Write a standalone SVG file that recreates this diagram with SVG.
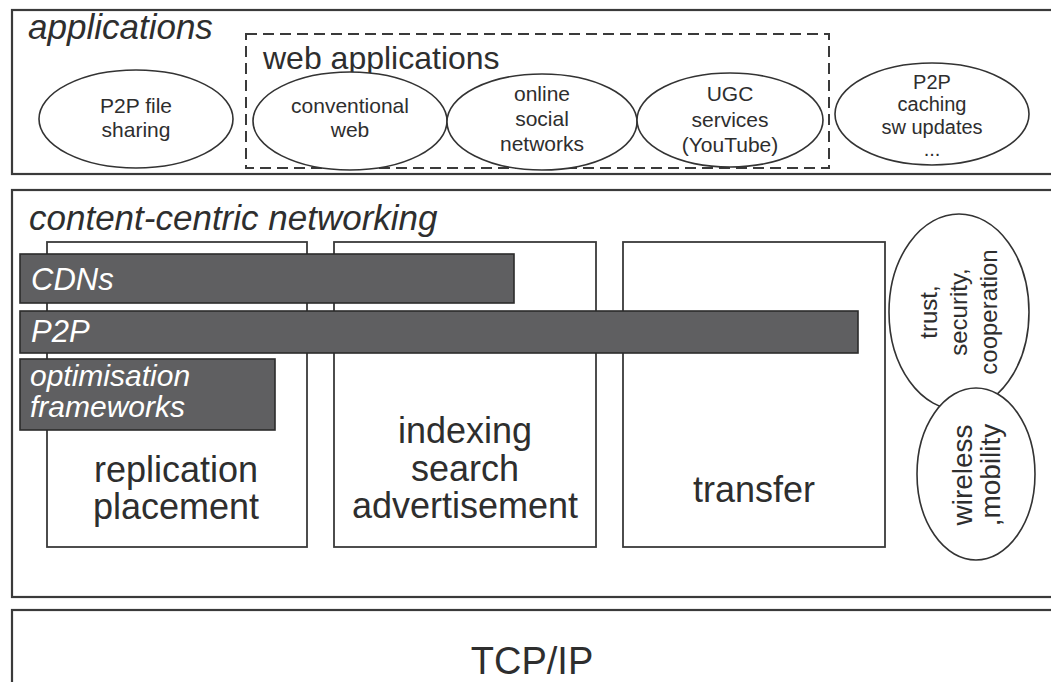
<svg xmlns="http://www.w3.org/2000/svg" width="1051" height="682" viewBox="0 0 1051 682">
  <style>
    .layer { fill: #ffffff; stroke: #3a3a3a; stroke-width: 2.2; }
    .box { fill: #ffffff; stroke: #3a3a3a; stroke-width: 1.8; }
    .dash { fill: none; stroke: #3a3a3a; stroke-width: 2; stroke-dasharray: 11 6; }
    .ell { fill: #ffffff; stroke: #333333; stroke-width: 1.6; }
    .bar { fill: #5f5f61; stroke: #2b2b2b; stroke-width: 1.6; }
    text { font-family: "Liberation Sans", Arial, sans-serif; fill: #2e2e2e; }
    .title { font-size: 35px; font-style: italic; }
    .sub { font-size: 32px; }
    .small { font-size: 21px; text-anchor: middle; }
    .tiny { font-size: 20px; text-anchor: middle; }
    .big { font-size: 36px; text-anchor: middle; }
    .barlbl { font-size: 31px; font-style: italic; fill: #ffffff; }
    .side { font-size: 24px; text-anchor: middle; }
  </style>

  <rect width="1051" height="682" fill="#ffffff"/>

  <!-- applications layer -->
  <g id="applications">
    <rect class="layer" x="12" y="10" width="1060" height="164"/>
    <text class="title" x="28" y="39">applications</text>
  </g>

  <g id="web-applications">
    <rect class="dash" x="246" y="34" width="583" height="134"/>
    <text class="sub" x="263" y="69">web applications</text>
  </g>

  <g id="p2p-file-sharing">
    <ellipse class="ell" cx="136" cy="119" rx="97" ry="49"/>
    <text class="small" x="136" y="113">P2P file</text>
    <text class="small" x="136" y="137">sharing</text>
  </g>

  <g id="conventional-web">
    <ellipse class="ell" cx="350" cy="121" rx="97" ry="49"/>
    <text class="small" x="350" y="113">conventional</text>
    <text class="small" x="350" y="137">web</text>
  </g>

  <g id="online-social-networks">
    <ellipse class="ell" cx="542" cy="122" rx="95" ry="48"/>
    <text class="small" x="542" y="101">online</text>
    <text class="small" x="542" y="126">social</text>
    <text class="small" x="542" y="151">networks</text>
  </g>

  <g id="ugc-services">
    <ellipse class="ell" cx="730" cy="120" rx="93" ry="47"/>
    <text class="small" x="730" y="101">UGC</text>
    <text class="small" x="730" y="127">services</text>
    <text class="small" x="730" y="152">(YouTube)</text>
  </g>

  <g id="p2p-caching">
    <ellipse class="ell" cx="932" cy="114" rx="97" ry="51"/>
    <text class="tiny" x="932" y="89">P2P</text>
    <text class="tiny" x="932" y="111">caching</text>
    <text class="tiny" x="932" y="134">sw updates</text>
    <text class="tiny" x="932" y="156">...</text>
  </g>

  <!-- content-centric networking layer -->
  <g id="content-centric-networking">
    <rect class="layer" x="12" y="190" width="1060" height="407"/>
    <text class="title" x="29" y="230">content-centric networking</text>
  </g>

  <g id="replication-placement">
    <rect class="box" x="47" y="242" width="260" height="305"/>
    <text class="big" x="176" y="482">replication</text>
    <text class="big" x="176" y="519">placement</text>
  </g>

  <g id="indexing-search">
    <rect class="box" x="334" y="242" width="262" height="305"/>
    <text class="big" x="465" y="443">indexing</text>
    <text class="big" x="465" y="481">search</text>
    <text class="big" x="465" y="518">advertisement</text>
  </g>

  <g id="transfer">
    <rect class="box" x="623" y="242" width="262" height="305"/>
    <text class="big" x="754" y="502">transfer</text>
  </g>

  <g id="cdns">
    <rect class="bar" x="20" y="254" width="494" height="49"/>
    <text class="barlbl" x="31" y="290">CDNs</text>
  </g>

  <g id="p2p">
    <rect class="bar" x="20" y="311" width="838" height="42"/>
    <text class="barlbl" x="31" y="342">P2P</text>
  </g>

  <g id="optimisation-frameworks">
    <rect class="bar" x="20" y="359" width="255" height="71"/>
    <text class="barlbl" style="font-size:30px" x="30" y="386">optimisation</text>
    <text class="barlbl" style="font-size:30px" x="30" y="417">frameworks</text>
  </g>

  <g id="trust-security">
    <ellipse class="ell" cx="959" cy="312" rx="70" ry="98"/>
    <g transform="translate(959 312) rotate(-90)">
      <text class="side" x="0" y="-22">trust,</text>
      <text class="side" x="0" y="8">security,</text>
      <text class="side" x="0" y="38">cooperation</text>
    </g>
  </g>

  <g id="wireless-mobility">
    <ellipse class="ell" cx="976" cy="474" rx="59" ry="86"/>
    <g transform="translate(976 475) rotate(-90)">
      <text class="side" style="font-size:28px" x="0" y="-4">wireless</text>
      <text class="side" style="font-size:28px" x="0" y="24">,mobility</text>
    </g>
  </g>

  <!-- transport layer -->
  <g id="tcp-ip">
    <rect class="layer" x="12" y="610" width="1060" height="100"/>
    <text x="532" y="674" style="font-size:38px; text-anchor:middle">TCP/IP</text>
  </g>

  <!-- no connectors in this layered figure -->
  <g id="connectors"/>
</svg>
